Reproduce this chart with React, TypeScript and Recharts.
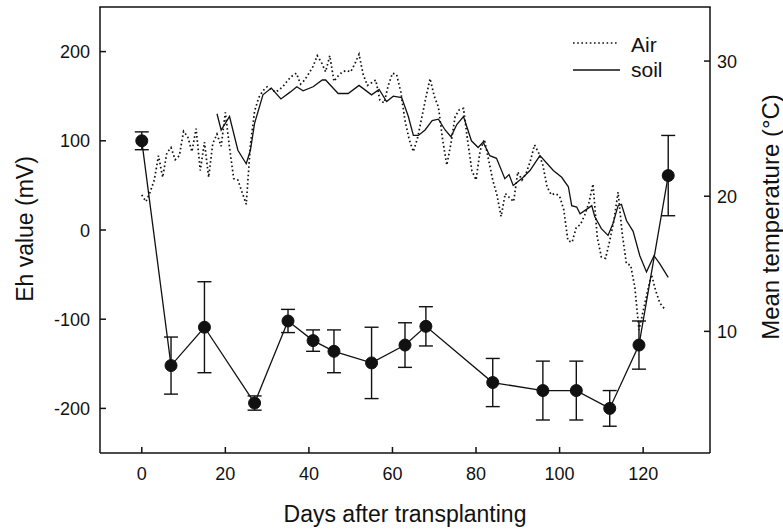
import { LineChart, Line, XAxis, YAxis, ErrorBar } from 'recharts';

// daily mean air temperature, day 0 .. 125 (°C)
const airTemp = [
  20.1, 19.6, 20.3, 21.2, 23.0, 21.4, 23.2, 23.6, 22.7, 23.0,
  24.8, 24.4, 23.3, 25.0, 21.9, 24.0, 21.4, 23.9, 24.6, 23.7,
  26.2, 23.6, 21.3, 21.2, 20.3, 19.4, 23.8, 26.3, 27.3, 27.8,
  28.1, 27.9, 27.7, 27.9, 28.2, 28.6, 28.9, 29.1, 28.3, 28.6,
  29.1, 29.6, 30.4, 29.9, 29.2, 30.4, 28.5, 28.9, 29.2, 29.3,
  29.2, 29.8, 30.5, 29.0, 28.2, 28.4, 28.6, 27.1, 26.9, 28.2,
  29.1, 29.0, 27.7, 25.6, 24.2, 23.3, 24.3, 25.8, 27.3, 28.7,
  27.4, 26.6, 24.2, 22.3, 23.9, 25.9, 26.4, 26.5, 24.1, 21.9,
  21.2, 23.4, 24.2, 22.7, 21.2, 20.1, 18.5, 20.2, 19.9, 19.6,
  21.8, 21.2, 21.7, 22.6, 23.8, 23.2, 22.3, 20.7, 20.1, 20.2,
  20.0, 19.0, 16.7, 16.6, 17.7, 17.9, 18.6, 19.5, 20.9, 17.0,
  15.5, 15.4, 16.7, 18.2, 20.3, 17.2, 15.0, 14.9, 13.3, 10.1,
  11.5, 12.9, 14.2, 13.0, 12.1, 11.7,
];

// soil temperature (°C)
const soilDays = [
  18, 19, 21, 23, 25, 26, 27, 29, 31, 33.3,
  35.5, 37.1, 38.6, 41, 43.2, 44, 47, 49.4, 52, 55,
  56.8, 58.6, 60.2, 62.2, 63.8, 65, 66.2, 67.8, 69.5, 71,
  72.6, 74, 75.4, 77, 78.9, 80.5, 81.7, 83.3, 84.9, 86.9,
  87.9, 88.9, 91.3, 92.9, 95.3, 98.5, 100.5, 102.1, 102.9, 104.1,
  104.9, 106.8, 107.7, 108.4, 110, 111.6, 112.8, 114, 114.8, 116,
  117.6, 119.2, 120.8, 122.6, 124, 126,
];
const soilTemp = [
  26.1, 24.9, 25.9, 23.4, 22.4, 23.4, 25.4, 27.5, 28.0, 27.2,
  27.7, 28.1, 27.8, 28.1, 28.6, 28.6, 27.6, 27.6, 28.2, 27.5,
  27.9, 27.0, 27.4, 27.3, 25.9, 24.5, 24.5, 24.9, 25.6, 25.7,
  24.9, 24.4, 25.3, 25.9, 24.1, 23.6, 24.0, 23.0, 22.8, 21.3,
  21.6, 20.8, 21.4, 21.9, 23.0, 21.9, 21.4, 20.7, 19.3, 19.2,
  18.7, 19.1, 19.3, 18.5, 17.6, 17.1, 18.0, 19.3, 19.4, 18.2,
  17.4, 15.6, 14.4, 15.6, 15.0, 14.0,
];

// Eh (mV) with error bars
const ehDays = [0, 7, 15, 27, 35, 41, 46, 55, 63, 68, 84, 96, 104, 112, 119, 126];
const ehValues = [100, -152, -109, -194, -102, -124, -136, -149, -129, -108, -171, -180, -180, -200, -129, 61];
const ehErrors = [10, 32, 51, 8, 13, 12, 24, 40, 25, 22, 27, 33, 33, 20, 27, 45];

const dayTicks = [0, 20, 40, 60, 80, 100, 120];
const ehTicks = [-200, -100, 0, 100, 200];
const tempTicks = [10, 20, 30];

const airData = airTemp.map((t, i) => ({ day: i, air: t }));
const soilData = soilDays.map((d, i) => ({ day: d, soil: soilTemp[i] }));
const ehData = ehDays.map((d, i) => ({ day: d, eh: ehValues[i], err: ehErrors[i] }));

const FONT = '"Liberation Sans", Arial, sans-serif';
const INK = '#111';
const TICK_FS = 18;

function BottomTick({ x, y, payload }: any) {
  return (
    <g>
      <line x1={x} y1={y} x2={x} y2={y - 6} stroke={INK} strokeWidth={1.5} />
      <text x={x} y={y + 27} textAnchor="middle" fontSize={TICK_FS} fontFamily={FONT} fill={INK}>
        {payload.value}
      </text>
    </g>
  );
}

function LeftTick({ x, y, payload }: any) {
  return (
    <g>
      <line x1={x} y1={y} x2={x + 6} y2={y} stroke={INK} strokeWidth={1.5} />
      <text x={x - 10} y={y + 6.5} textAnchor="end" fontSize={TICK_FS} fontFamily={FONT} fill={INK}>
        {payload.value}
      </text>
    </g>
  );
}

function RightTick({ x, y, payload }: any) {
  return (
    <g>
      <line x1={x} y1={y} x2={x - 6} y2={y} stroke={INK} strokeWidth={1.5} />
      <text x={x + 7} y={y + 6.5} textAnchor="start" fontSize={TICK_FS} fontFamily={FONT} fill={INK}>
        {payload.value}
      </text>
    </g>
  );
}

const axisLine = { stroke: INK, strokeWidth: 1.5 };

export default function App() {
  return (
    <div style={{ position: 'absolute', left: 0, top: 0, width: 783, height: 531, background: '#fff' }}>
      <LineChart width={783} height={531} margin={{ top: 7, right: 13, bottom: 48, left: 40 }}>
        <XAxis
          dataKey="day"
          type="number"
          domain={[-10, 136]}
          ticks={dayTicks}
          height={30}
          tickSize={0}
          tickMargin={0}
          tickLine={false}
          axisLine={axisLine}
          tick={<BottomTick />}
          allowDataOverflow
        />
        <YAxis
          yAxisId="eh"
          type="number"
          domain={[-250, 250]}
          ticks={ehTicks}
          width={60}
          tickSize={0}
          tickMargin={0}
          tickLine={false}
          axisLine={axisLine}
          tick={<LeftTick />}
          allowDataOverflow
        />
        <YAxis
          yAxisId="temp"
          orientation="right"
          type="number"
          domain={[1, 34]}
          ticks={tempTicks}
          width={60}
          tickSize={0}
          tickMargin={0}
          tickLine={false}
          axisLine={axisLine}
          tick={<RightTick />}
          allowDataOverflow
        />
        <Line
          data={airData}
          dataKey="air"
          yAxisId="temp"
          type="linear"
          stroke={INK}
          strokeWidth={1.7}
          strokeDasharray="1.6 2.6"
          dot={false}
          isAnimationActive={false}
        />
        <Line
          data={soilData}
          dataKey="soil"
          yAxisId="temp"
          type="linear"
          stroke={INK}
          strokeWidth={1.3}
          dot={false}
          isAnimationActive={false}
        />
        <Line
          data={ehData}
          dataKey="eh"
          yAxisId="eh"
          type="linear"
          stroke={INK}
          strokeWidth={1.3}
          dot={{ r: 6, fill: INK, stroke: INK, strokeWidth: 1 }}
          isAnimationActive={false}
        >
          <ErrorBar dataKey="err" direction="y" width={7} stroke={INK} strokeWidth={1.4} />
        </Line>
      </LineChart>
      <svg width={783} height={531} style={{ position: 'absolute', left: 0, top: 0, pointerEvents: 'none' }}>
        {/* top edge of the plot frame */}
        <rect x={99.25} y={6.25} width={611.5} height={1.5} fill={INK} />
        <g fontFamily={FONT} fill={INK}>
          <text x={405} y={522} textAnchor="middle" fontSize={23}>Days after transplanting</text>
          <text transform="translate(33,229) rotate(-90)" textAnchor="middle" fontSize={23}>Eh value (mV)</text>
          <text transform="translate(779,217) rotate(-90)" textAnchor="middle" fontSize={24}>Mean temperature (°C)</text>
          <line x1={573} y1={43} x2={618} y2={43} stroke={INK} strokeWidth={1.7} strokeDasharray="1.6 2.6" />
          <text x={631} y={52} fontSize={21}>Air</text>
          <line x1={573} y1={70} x2={620} y2={70} stroke={INK} strokeWidth={1.3} />
          <text x={631} y={77} fontSize={21}>soil</text>
        </g>
      </svg>
    </div>
  );
}
